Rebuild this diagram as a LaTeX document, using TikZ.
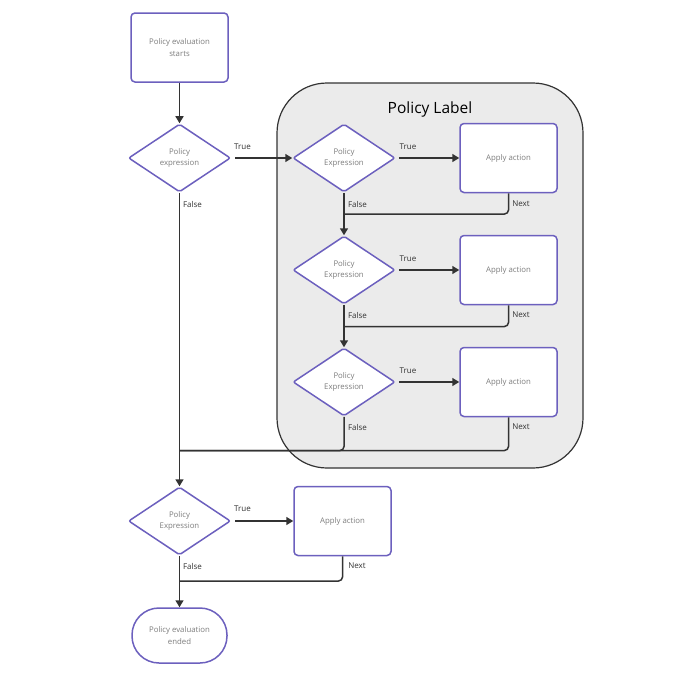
\documentclass[tikz,border=0pt]{standalone}
\usepackage{fontspec}
\setmainfont{Open Sans}
\usetikzlibrary{shapes.geometric,arrows.meta}
\definecolor{nodeborder}{RGB}{108,96,190}
\definecolor{nodetext}{RGB}{125,125,125}
\definecolor{linecol}{RGB}{51,51,51}
\definecolor{groupfill}{RGB}{235,235,235}
\begin{document}
\begin{tikzpicture}[x=1pt,y=-1pt,
  nodefont/.style={font=\fontsize{7.8}{11.5}\selectfont,text=nodetext,align=center},
  procbox/.style={nodefont,draw=nodeborder,line width=1.5pt,fill=white,rounded corners=4pt,minimum width=97pt,minimum height=69pt,inner sep=0pt},
  decision/.style={nodefont,diamond,draw=nodeborder,line width=1.5pt,fill=white,rounded corners=2pt,minimum width=102pt,minimum height=68pt,inner sep=0pt},
  terminal/.style={nodefont,draw=nodeborder,line width=1.5pt,fill=white,rounded corners=27pt,minimum width=95pt,minimum height=55pt,inner sep=0pt},
  conn/.style={draw=linecol,line width=1.5pt,-{Triangle[length=7pt,width=8pt]}},
  merge/.style={draw=linecol,line width=1.5pt,rounded corners=4pt},
  lbl/.style={font=\fontsize{8}{9}\selectfont,text=linecol,inner sep=0pt}]
\useasboundingbox (0,0) rectangle (680,680);
\fill[white] (0,0) rectangle (680,680);
% group container
\node[draw=linecol,fill=groupfill,line width=1.2pt,rounded corners=50pt,minimum width=306pt,minimum height=385pt,inner sep=0pt] (grp) at (430,275.5) {};
\node[font=\fontsize{15.5}{18}\selectfont,text=black] (title) at (430,109) {Policy Label};
% nodes
\node[procbox] (start) at (179.5,47.5) {Policy evaluation\\starts};
\node[decision] (d1) at (179.5,158) {Policy\\expression};
\node[decision] (d2) at (344,158) {Policy\\Expression};
\node[procbox] (a1) at (508.5,158) {Apply action};
\node[decision] (d3) at (344,270) {Policy\\Expression};
\node[procbox] (a2) at (508.5,270) {Apply action};
\node[decision] (d4) at (344,382) {Policy\\Expression};
\node[procbox] (a3) at (508.5,382) {Apply action};
\node[decision] (d5) at (179.5,521) {Policy\\Expression};
\node[procbox] (a4) at (342.5,521) {Apply action};
\node[terminal] (end) at (179.5,635.5) {Policy evaluation\\ended};
% merge points
\coordinate (m1) at (344,214);
\coordinate (m2) at (344,326.5);
\coordinate (m3) at (179.5,450.5);
\coordinate (m4) at (179.5,581);
% connectors
\draw[conn] (start) -- (d1);
\draw[conn,shorten <=4pt] (d1.east) -- (d2.west);
\draw[conn,shorten <=3pt] (d2.east) -- (a1.west);
\draw[conn] (d2.south) -- (d3.north);
\draw[merge] (a1.south) |- (m1);
\draw[conn,shorten <=3pt] (d3.east) -- (a2.west);
\draw[conn] (d3.south) -- (d4.north);
\draw[merge] (a2.south) |- (m2);
\draw[conn,shorten <=3pt] (d4.east) -- (a3.west);
\draw[merge] (d4.south) |- (m3);
\draw[merge] (a3.south) |- (m3);
\draw[conn] (d1.south) -- (d5.north);
\draw[conn,shorten <=4pt] (d5.east) -- (a4.west);
\draw[conn] (d5.south) -- (end.north);
\draw[merge] (a4.south) |- (m4);
% labels
\node[lbl] (t1) at (242.5,147) {True};
\node[lbl] (f1) at (192.5,204) {False};
\node[lbl] (t2) at (408,147) {True};
\node[lbl] (f2) at (357.5,204) {False};
\node[lbl] (n1) at (521,204) {Next};
\node[lbl] (t3) at (408,259) {True};
\node[lbl] (f3) at (357.5,315) {False};
\node[lbl] (n2) at (521,315) {Next};
\node[lbl] (t4) at (408,371) {True};
\node[lbl] (f4) at (357.5,427) {False};
\node[lbl] (n3) at (521,427) {Next};
\node[lbl] (t5) at (242.5,509) {True};
\node[lbl] (f5) at (192.5,566) {False};
\node[lbl] (n4) at (357,566) {Next};
\end{tikzpicture}
\end{document}
